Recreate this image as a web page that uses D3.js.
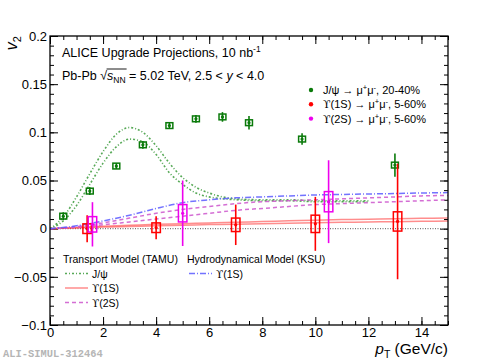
<!DOCTYPE html>
<html>
<head>
<meta charset="utf-8">
<script src="https://cdn.jsdelivr.net/npm/d3@7"></script>
<style>
body { margin: 0; background: #fff; }
svg text { font-family: "Liberation Sans", Arial, Helvetica, sans-serif; fill: #000; }
.ups { font-family: "DejaVu Serif", serif; }
</style>
</head>
<body>
<svg id="chart" width="498" height="362"></svg>
<script>
const jpsiPt   = [0.5, 1.5, 2.5, 3.5, 4.5, 5.5, 6.5, 7.5, 9.5, 13];
const jpsiV2   = [0.013, 0.039, 0.065, 0.087, 0.107, 0.114, 0.116, 0.110, 0.093, 0.066];
const jpsiStat = [0.004, 0.004, 0.003, 0.004, 0.003, 0.004, 0.005, 0.007, 0.006, 0.012];
const jpsiSyst = [0.003, 0.003, 0.003, 0.003, 0.003, 0.003, 0.003, 0.003, 0.003, 0.003];

const ups1Pt   = [1.4, 4.0, 7.0, 10.0, 13.1];
const ups1V2   = [0.0, 0.001, 0.004, 0.005, 0.0075];
const ups1Stat = [0.014, 0.012, 0.021, 0.028, 0.060];
const ups1Syst = [0.005, 0.005, 0.007, 0.009, 0.010];

const ups2Pt   = [1.6, 5.0, 10.5];
const ups2V2   = [0.0045, 0.016, 0.028];
const ups2Stat = [0.023, 0.034, 0.043];
const ups2Syst = [0.008, 0.009, 0.0105];

// ---- model curves ----
const tamuJpsiPt = [0, 0.5, 1, 1.5, 2, 2.5, 3, 3.5, 4, 4.5, 5, 5.5, 6, 6.5, 7, 8, 9, 10, 11, 12];
const tamuJpsiHi = [0, 0.012, 0.033, 0.057, 0.080, 0.098, 0.105, 0.100, 0.086, 0.068, 0.053, 0.043, 0.037, 0.033, 0.031, 0.030, 0.030, 0.029, 0.029, 0.029];
const tamuJpsiLo = [0, 0.008, 0.024, 0.046, 0.068, 0.085, 0.093, 0.090, 0.077, 0.058, 0.046, 0.037, 0.033, 0.031, 0.030, 0.029, 0.029, 0.028, 0.028, 0.028];

const modelPt    = [0, 1, 2, 3, 4, 5, 6, 7, 8, 9, 10, 11, 12, 13, 14, 15];
const tamuUps1Hi = [0, 0.0012, 0.0025, 0.0035, 0.0045, 0.0052, 0.006, 0.0067, 0.0074, 0.0081, 0.0088, 0.0094, 0.0099, 0.0103, 0.0107, 0.011];
const tamuUps1Lo = [0, 0.0008, 0.0016, 0.0023, 0.003, 0.0036, 0.0042, 0.0047, 0.0052, 0.0057, 0.0062, 0.0066, 0.007, 0.0073, 0.0076, 0.0079];
const tamuUps2Hi = [0, 0.002, 0.006, 0.011, 0.016, 0.020, 0.023, 0.026, 0.028, 0.029, 0.030, 0.031, 0.032, 0.033, 0.034, 0.0345];
const tamuUps2Lo = [0, 0.0015, 0.004, 0.007, 0.010, 0.013, 0.016, 0.019, 0.021, 0.023, 0.025, 0.026, 0.027, 0.028, 0.029, 0.030];
const ksuUps1    = [0, 0.003, 0.008, 0.014, 0.021, 0.027, 0.030, 0.032, 0.033, 0.034, 0.035, 0.0355, 0.036, 0.0365, 0.037, 0.0375];

// ---- axis ticks ----
const xMajor = [0, 2, 4, 6, 8, 10, 12, 14];
const yMajor = [-0.1, -0.05, 0, 0.05, 0.1, 0.15, 0.2];

const svg = d3.select("#chart");
const x = d3.scaleLinear().domain([0, 15]).range([50, 448]);
const y = d3.scaleLinear().domain([-0.1, 0.2]).range([325, 36]);

const xMinor = d3.range(0, 31).map(i => i / 2);
const yMinor = d3.range(-10, 21).map(i => i / 100);

svg.append("clipPath").attr("id", "plot")
  .append("rect").attr("x", 50).attr("y", 36).attr("width", 398).attr("height", 289);

const frame = svg.append("g");

// ticks on all four sides, pointing in
function ticks(axis, values, size, tr, labels) {
  const g = frame.append("g").attr("transform", tr)
    .call(axis.tickValues(values).tickSize(size).tickPadding(3)
      .tickFormat(labels ? d3.format("~g") : ""));
  g.select(".domain").remove();
  g.selectAll("line").attr("stroke", "#000").attr("stroke-width", 1);
  g.selectAll("text").style("font-size", "13px").attr("fill", "#000");
  return g;
}
ticks(d3.axisBottom(x), xMinor, -4, "translate(0,325)", false);
ticks(d3.axisBottom(x), xMajor, -8, "translate(0,325)", true);
ticks(d3.axisTop(x), xMinor, -4, "translate(0,36)", false);
ticks(d3.axisTop(x), xMajor, -8, "translate(0,36)", false);
ticks(d3.axisLeft(y), yMinor, -4, "translate(50,0)", false);
ticks(d3.axisLeft(y), yMajor, -8, "translate(50,0)", true);
ticks(d3.axisRight(y), yMinor, -4, "translate(448,0)", false);
ticks(d3.axisRight(y), yMajor, -8, "translate(448,0)", false);

// zero line
svg.append("line")
  .attr("x1", x(0)).attr("x2", x(15)).attr("y1", y(0)).attr("y2", y(0))
  .attr("stroke", "#777").attr("stroke-width", 1.2).attr("stroke-dasharray", "1,1.5");

// model curves
const curves = svg.append("g").attr("clip-path", "url(#plot)");
const line = (xs) => d3.line().x((d, i) => x(xs[i])).y(d => y(d)).curve(d3.curveMonotoneX);

const green = { stroke: "#3a9a3a", dash: "2,2,1,2", width: 1.6, op: 0.85 };
const red   = { stroke: "#ff3030", dash: null, width: 1.5, op: 0.55 };
const mag   = { stroke: "#cc55cc", dash: "4,3", width: 1.5, op: 0.85 };
const blue  = { stroke: "#5a5aff", dash: "6,2,1,2", width: 1.5, op: 0.85 };

function drawCurve(xs, ys, st) {
  curves.append("path").datum(ys)
    .attr("d", line(xs))
    .attr("fill", "none")
    .attr("stroke", st.stroke)
    .attr("stroke-width", st.width)
    .attr("stroke-opacity", st.op)
    .attr("stroke-dasharray", st.dash);
}
drawCurve(tamuJpsiPt, tamuJpsiHi, green);
drawCurve(tamuJpsiPt, tamuJpsiLo, green);
drawCurve(modelPt, tamuUps1Hi, red);
drawCurve(modelPt, tamuUps1Lo, red);
drawCurve(modelPt, tamuUps2Hi, mag);
drawCurve(modelPt, tamuUps2Lo, mag);
drawCurve(modelPt, ksuUps1, blue);

// data points: stat bar, syst box, marker
function drawPoints(pts, v2, stat, syst, halfW, color) {
  const g = svg.append("g");
  const data = pts.map((p, i) => ({ p, v: v2[i], s: stat[i], e: syst[i] }));
  g.selectAll(".stat").data(data).join("line")
    .attr("x1", d => x(d.p)).attr("x2", d => x(d.p))
    .attr("y1", d => y(d.v + d.s)).attr("y2", d => y(d.v - d.s))
    .attr("stroke", color).attr("stroke-width", 1.6);
  g.selectAll(".syst").data(data).join("rect")
    .attr("x", d => x(d.p - halfW)).attr("width", d => x(d.p + halfW) - x(d.p - halfW))
    .attr("y", d => y(d.v + d.e)).attr("height", d => y(d.v - d.e) - y(d.v + d.e))
    .attr("fill", "none").attr("stroke", color).attr("stroke-width", 1.5);
  g.selectAll(".pt").data(data).join("circle")
    .attr("cx", d => x(d.p)).attr("cy", d => y(d.v)).attr("r", 1.6)
    .attr("fill", color);
}
drawPoints(jpsiPt, jpsiV2, jpsiStat, jpsiSyst, 0.13, "#0a7a0a");
drawPoints(ups1Pt, ups1V2, ups1Stat, ups1Syst, 0.16, "#ff0000");
drawPoints(ups2Pt, ups2V2, ups2Stat, ups2Syst, 0.16, "#ee00ee");

// frame
svg.append("rect").attr("x", 50).attr("y", 36).attr("width", 398).attr("height", 289)
  .attr("fill", "none").attr("stroke", "#000").attr("stroke-width", 1.3);

// axis titles
svg.append("text").attr("transform", "translate(17,36) rotate(-90)")
  .attr("text-anchor", "end").style("font-size", "16px")
  .call(t => {
    t.append("tspan").style("font-style", "italic").text("v");
    t.append("tspan").attr("dy", 4).style("font-size", "11px").text("2");
  });
svg.append("text").attr("x", 448).attr("y", 354)
  .attr("text-anchor", "end").style("font-size", "15.5px")
  .call(t => {
    t.append("tspan").style("font-style", "italic").text("p");
    t.append("tspan").attr("dy", 4).style("font-size", "10.5px").text("T");
    t.append("tspan").attr("dy", -4).text(" (GeV/c)");
  });

// header
svg.append("text").attr("x", 62).attr("y", 57).style("font-size", "12.5px")
  .call(t => {
    t.append("tspan").text("ALICE Upgrade Projections, 10 nb");
    t.append("tspan").attr("dy", -5).style("font-size", "8.5px").text("-1");
  });
const sys = svg.append("text").attr("x", 62).attr("y", 80).style("font-size", "12.5px");
sys.append("tspan").text("Pb-Pb \u221A");
sys.append("tspan").style("font-style", "italic").text("s");
sys.append("tspan").attr("dy", 3).style("font-size", "8.5px").text("NN");
sys.append("tspan").attr("dy", -3).text(" = 5.02 TeV, 2.5 < ");
sys.append("tspan").style("font-style", "italic").text("y");
sys.append("tspan").text(" < 4.0");
// overline of the square root
const sn = sys.node();
const rx = sn.getEndPositionOfChar(6).x;
const nx = sn.getEndPositionOfChar(9).x;
svg.append("line").attr("x1", rx - 0.5).attr("x2", nx + 1).attr("y1", 69).attr("y2", 69)
  .attr("stroke", "#000").attr("stroke-width", 0.9);

// Upsilon glyph in a serif face, like the original symbol font
function label(t, pre, rest) {
  if (pre) t.append("tspan").attr("class", "ups").text("\u03D2");
  t.append("tspan").text(rest);
}

// data legend (top right)
const dataLegend = [
  { color: "#0a7a0a", ups: false, name: "J/\u03C8 \u2192 \u03BC", tail: ", 20-40%" },
  { color: "#ff0000", ups: true, name: "(1S) \u2192 \u03BC", tail: ", 5-60%" },
  { color: "#ee00ee", ups: true, name: "(2S) \u2192 \u03BC", tail: ", 5-60%" }
];
dataLegend.forEach((d, i) => {
  const yy = 90 + i * 14.3;
  svg.append("circle").attr("cx", 311).attr("cy", yy).attr("r", 2.2).attr("fill", d.color);
  const t = svg.append("text").attr("x", 323).attr("y", yy + 4).style("font-size", "11px");
  label(t, d.ups, d.name);
  t.append("tspan").attr("dy", -4).style("font-size", "7.5px").text("+");
  t.append("tspan").attr("dy", 4).text("\u03BC");
  t.append("tspan").attr("dy", -4).style("font-size", "7.5px").text("-");
  t.append("tspan").attr("dy", 4).text(d.tail);
});

// model legend (bottom)
function legendBlock(x0, title, entries) {
  svg.append("text").attr("x", x0).attr("y", 263).style("font-size", "10.5px").text(title);
  entries.forEach((e, i) => {
    const yy = 273.5 + i * 14.5;
    svg.append("line").attr("x1", x0 + 2).attr("x2", x0 + 25).attr("y1", yy).attr("y2", yy)
      .attr("stroke", e.st.stroke).attr("stroke-width", e.st.width)
      .attr("stroke-opacity", e.st.op).attr("stroke-dasharray", e.st.dash);
    const t = svg.append("text").attr("x", x0 + 29).attr("y", yy + 4).style("font-size", "10.5px");
    label(t, e.ups, e.label);
  });
}
legendBlock(63, "Transport Model (TAMU)", [
  { st: green, ups: false, label: "J/\u03C8" },
  { st: red, ups: true, label: "(1S)" },
  { st: mag, ups: true, label: "(2S)" }
]);
legendBlock(187, "Hydrodynamical Model (KSU)", [
  { st: blue, ups: true, label: "(1S)" }
]);

// figure id
svg.append("text").attr("x", 3).attr("y", 357)
  .style("font-family", "'Liberation Mono', 'DejaVu Sans Mono', monospace")
  .style("font-size", "10.4px").style("font-weight", "bold")
  .style("fill", "#b5b5b5").text("ALI-SIMUL-312464");
</script>
</body>
</html>
